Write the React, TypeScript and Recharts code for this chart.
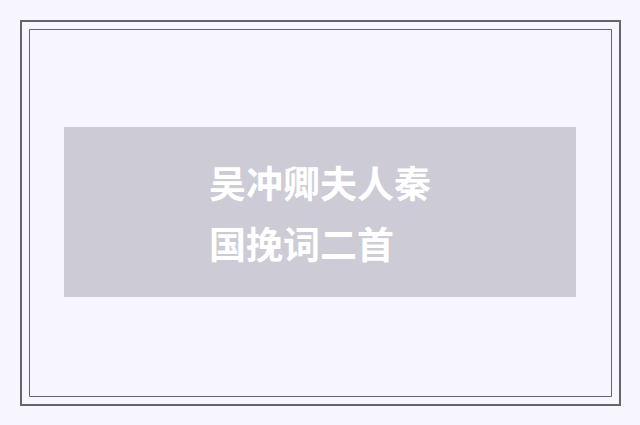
import React from "react";
import { ComposedChart, XAxis, YAxis, ReferenceArea, ReferenceDot, Label } from "recharts";

const W = 640;
const H = 425;

const titleLines = ["吴冲卿夫人秦", "国挽词二首"];
const lineTops = [185, 246];
const panel = { x1: 64, x2: 576, y1: 127, y2: 297 };
const outerFrame = { x1: 21, x2: 620, y1: 21, y2: 405 };
const innerFrame = { x1: 29.5, x2: 611.5, y1: 29.5, y2: 396.5 };

const dummy = [{ x: 0, y: 0 }];

export default function App() {
  return (
    <div style={{ position: "fixed", left: 0, top: 0, width: W, height: H, background: "#f7f5fe" }}>
      <ComposedChart width={W} height={H} data={dummy} margin={{ top: 0, right: 0, bottom: 0, left: 0 }}>
        <XAxis type="number" dataKey="x" domain={[0, W]} hide allowDataOverflow />
        <YAxis type="number" dataKey="y" domain={[0, H]} reversed hide allowDataOverflow />
        <ReferenceArea {...outerFrame} fill="none" stroke="#66656c" strokeWidth={2} ifOverflow="visible" />
        <ReferenceArea {...innerFrame} fill="none" stroke="#66656c" strokeWidth={1} ifOverflow="visible" />
        <ReferenceArea {...panel} fill="#cdccd6" fillOpacity={1} stroke="none" ifOverflow="visible" />
        {titleLines.map((t, i) => (
          <ReferenceDot key={i} x={209} y={lineTops[i]} r={0} fill="none" stroke="none" ifOverflow="visible">
            <Label
              value={t}
              position="right"
              offset={0}
              fill="#ffffff"
              style={{ fontFamily: "'Noto Sans CJK SC'", fontSize: 37, fontWeight: 700 }}
            />
          </ReferenceDot>
        ))}
      </ComposedChart>
    </div>
  );
}
